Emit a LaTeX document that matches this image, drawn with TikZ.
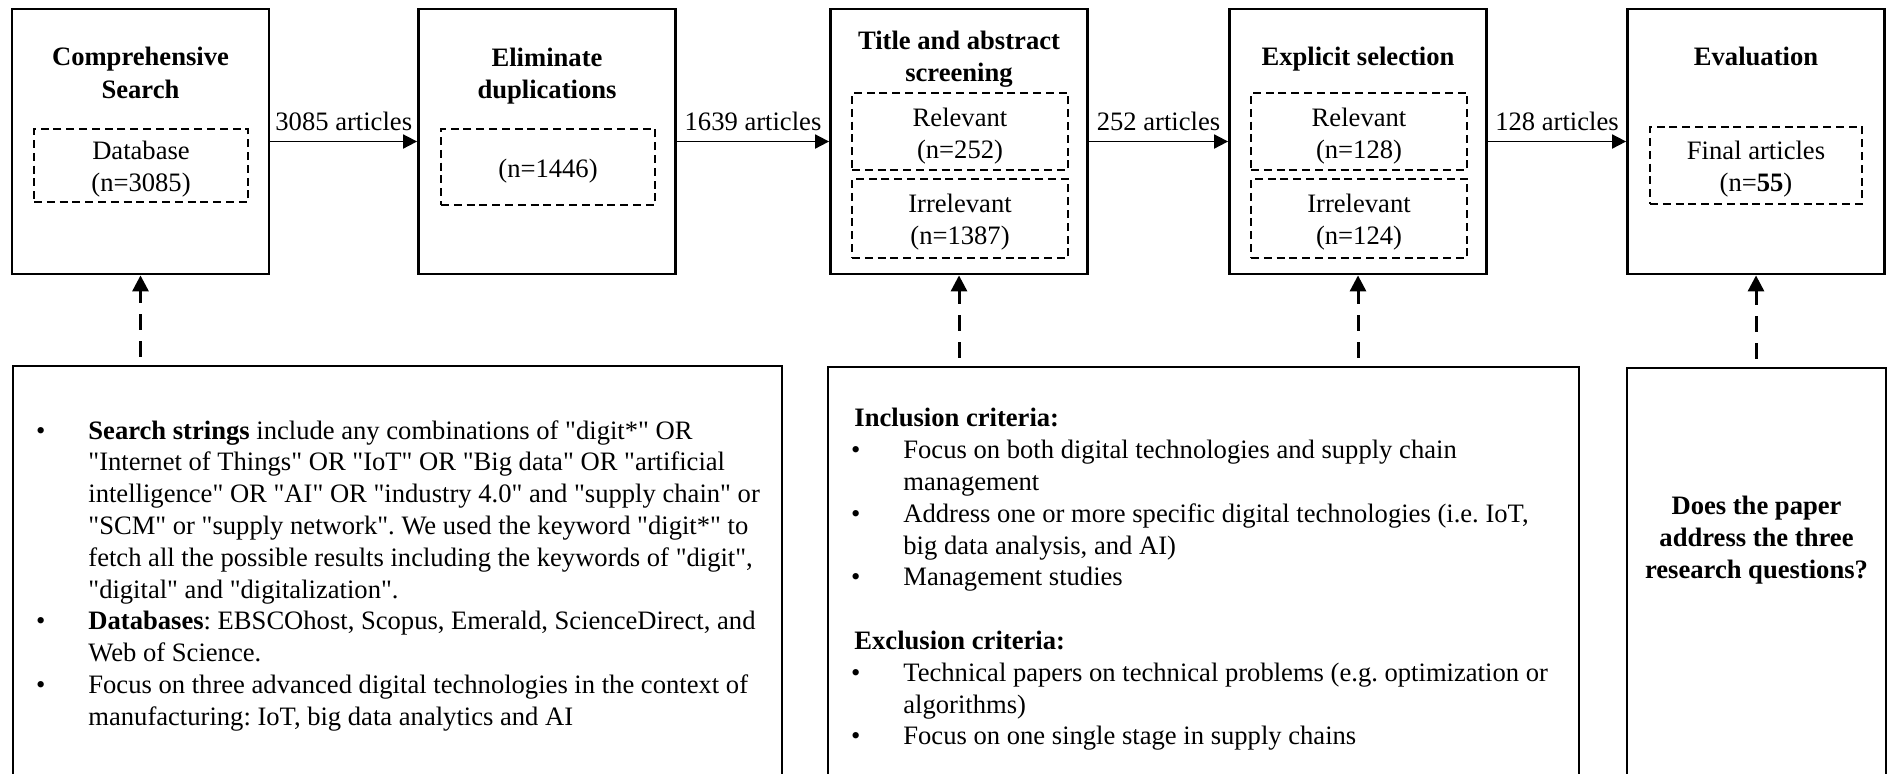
\documentclass[tikz,border=0pt]{standalone}
\usepackage{fontspec}
\setmainfont{Liberation Serif}[Ligatures=TeXOff]
\usetikzlibrary{arrows.meta}
\frenchspacing
\newcommand\bul{\llap{\textbullet\hspace{21.5pt}}}
\newcommand\ind{\hspace*{24.5pt}}
\begin{document}
\begin{tikzpicture}[x=0.5pt,y=-0.5pt,
  every node/.style={font=\fontsize{13.3}{16}\selectfont},
  stage/.style={draw, line width=1.4pt, minimum width=128.5pt, minimum height=132.5pt, inner sep=0pt},
  ttl/.style={font=\fontsize{13.3}{16.2}\selectfont\bfseries, align=center, inner sep=0pt},
  dbox/.style={draw, line width=1.1pt, dash pattern=on 4pt off 2.4pt, inner sep=0pt},
  dtxt/.style={align=center, inner sep=0pt},
  flow/.style={line width=0.9pt, -{Triangle[length=7pt,width=7pt]}},
  feed/.style={line width=1.5pt, dash pattern=on 8pt off 5.5pt, shorten <=4pt, -{Triangle[length=8pt,width=8pt]}},
  crit/.style={draw, line width=1.3pt, inner sep=0pt},
  lbl/.style={inner sep=0pt, anchor=south},
  body/.style={anchor=north west, align=left, inner sep=0pt, font=\fontsize{13.3}{15.9}\selectfont}
]
\useasboundingbox (0,0) rectangle (1894,773);

% top stages
\node[stage] (b1) at (140.5,141.5) {};
\node[stage] (b2) at (547,141.5) {};
\node[stage] (b3) at (959,141.5) {};
\node[stage] (b4) at (1358,141.5) {};
\node[stage] (b5) at (1756,141.5) {};

% titles
\node[ttl] (t1) at (140.5,73) {Comprehensive\\Search};
\node[ttl] (t2) at (547,76) {Eliminate\\duplications};
\node[ttl] (t3) at (959,59) {Title and abstract\\screening};
\node[ttl] (t4) at (1358,59) {Explicit selection};
\node[ttl] (t5) at (1756,56) {Evaluation};

% dashed inner boxes
\node[dbox, minimum width=107pt, minimum height=36.5pt] (d1) at (141,165.5) {};
\node[dbox, minimum width=107pt, minimum height=38pt] (d2) at (548,167) {};
\node[dbox, minimum width=108pt, minimum height=38.5pt] (d3r) at (960,131.5) {};
\node[dbox, minimum width=108pt, minimum height=39.5pt] (d3i) at (960,218.5) {};
\node[dbox, minimum width=108pt, minimum height=38.5pt] (d4r) at (1359,131.5) {};
\node[dbox, minimum width=108pt, minimum height=39.5pt] (d4i) at (1359,218.5) {};
\node[dbox, minimum width=106pt, minimum height=38.5pt] (d5) at (1756,165.5) {};

\node[dtxt] (d1t) at ([yshift=-2pt]d1.center) {Database\\(n=3085)};
\node[dtxt] (d2t) at ([yshift=-2pt]d2.center) {(n=1446)};
\node[dtxt] (d3rt) at ([yshift=-2.5pt]d3r.center) {Relevant\\(n=252)};
\node[dtxt] (d3it) at ([yshift=-2pt]d3i.center) {Irrelevant\\(n=1387)};
\node[dtxt] (d4rt) at ([yshift=-2.5pt]d4r.center) {Relevant\\(n=128)};
\node[dtxt] (d4it) at ([yshift=-2pt]d4i.center) {Irrelevant\\(n=124)};
\node[dtxt] (d5t) at ([yshift=-2pt]d5.center) {Final articles\\(n=\textbf{55})};

% flow arrows
\draw[flow] (b1) -- node[lbl, above=5pt] (l1) {3085 articles} (b2);
\draw[flow] (b2) -- node[lbl, above=5pt] (l2) {1639 articles} (b3);
\draw[flow] (b3) -- node[lbl, above=5pt] (l3) {252 articles} (b4);
\draw[flow] (b4) -- node[lbl, above=5pt] (l4) {128 articles} (b5);

% criteria boxes
\node[crit, minimum width=384.5pt, minimum height=217pt] (bA) at (397.5,583) {};
\node[crit, minimum width=375.5pt, minimum height=216.5pt] (bB) at (1203.5,583.5) {};
\node[crit, minimum width=129.5pt, minimum height=216pt] (bC) at (1756.5,584) {};

\node[body] (tA) at (88,420) {%
\bul\textbf{Search strings} include any combinations of "digit*" OR\\
"Internet of Things" OR "IoT" OR "Big data" OR "artificial\\
intelligence" OR "AI" OR "industry 4.0" and "supply chain" or\\
"SCM" or "supply network". We used the keyword "digit*" to\\
fetch all the possible results including the keywords of "digit",\\
"digital" and "digitalization".\\
\bul\textbf{Databases}: EBSCOhost, Scopus, Emerald, ScienceDirect, and\\
Web of Science.\\
\bul Focus on three advanced digital technologies in the context of\\
manufacturing: IoT, big data analytics and AI};

\node[body] (tB) at (854,408) {%
\textbf{Inclusion criteria:}\\
\ind\bul Focus on both digital technologies and supply chain\\
\ind management\\
\ind\bul Address one or more specific digital technologies (i.e. IoT,\\
\ind big data analysis, and AI)\\
\ind\bul Management studies\\[15.9pt]
\textbf{Exclusion criteria:}\\
\ind\bul Technical papers on technical problems (e.g. optimization or\\
\ind algorithms)\\
\ind\bul Focus on one single stage in supply chains};

\node[ttl] (tC) at (1756.5,540) {Does the paper\\address the three\\research questions?};

% feedback arrows
\draw[feed] (bA.north -| b1.south) -- (b1.south);
\draw[feed] (bB.north -| b3.south) -- (b3.south);
\draw[feed] (bB.north -| b4.south) -- (b4.south);
\draw[feed] (bC.north -| b5.south) -- (b5.south);
\end{tikzpicture}
\end{document}
